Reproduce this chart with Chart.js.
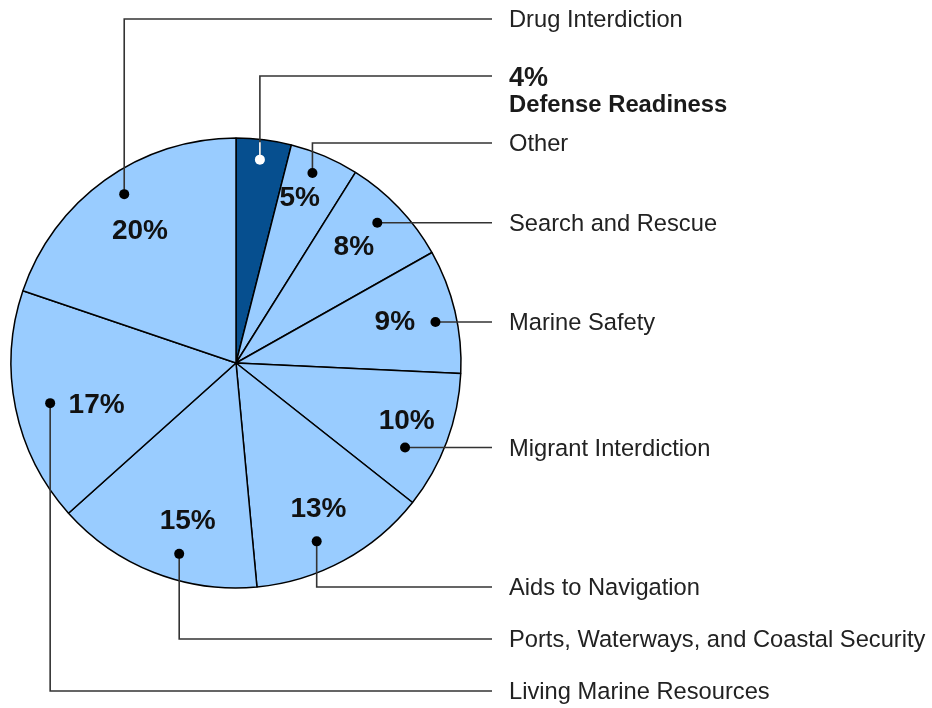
<!DOCTYPE html>
<html><head><meta charset="utf-8">
<script src="https://cdn.jsdelivr.net/npm/chart.js@4.4.0/dist/chart.umd.min.js"></script>
<style>html,body{margin:0;padding:0;background:#fff;} #wrap{width:932px;height:708px;}</style>
</head><body><div id="wrap"><canvas id="c" width="932" height="708"></canvas></div>
<script>
// ---- data ----
const categories = ["Defense Readiness","Other","Search and Rescue","Marine Safety","Migrant Interdiction","Aids to Navigation","Ports, Waterways, and Coastal Security","Living Marine Resources","Drug Interdiction"];
const shares = [4,5,8,9,10,13,15,17,20];
const pctLabels = shares.map(v => v + "%");
const highlighted = "Defense Readiness";

// ---- callout layout (style, not data) ----
const FONT = '"Liberation Sans", Arial, Helvetica, sans-serif';
const labelX = 509, leaderEndX = 492, textDY = 1.5;
const dotT = [0.47,0.43,0.46,0.555,0.67,0.59,0.41,0.49,0.53];
const dotR = [0.91,0.91,0.885,0.905,0.84,0.87,0.885,0.845,0.9];
const labelY = [76,143,null,null,null,587,639,691,19];
const pctT = [0.5,0.38,0.455,0.455,0.444,0.475,0.42,0.425,0.498];
const pctR = [0,0.79,0.74,0.73,0.80,0.74,0.73,0.645,0.73];

const lightBlue = '#99ccff', darkBlue = '#064f8f';

const callouts = {
  id: 'callouts',
  afterDatasetsDraw(chart) {
    const ctx = chart.ctx;
    const meta = chart.getDatasetMeta(0);
    ctx.save();
    meta.data.forEach((arc, i) => {
      const p = arc.getProps(['x','y','startAngle','endAngle','outerRadius'], true);
      const R = p.outerRadius;
      const a = p.startAngle + dotT[i]*(p.endAngle - p.startAngle);
      const dx = p.x + Math.cos(a)*R*dotR[i];
      const dy = p.y + Math.sin(a)*R*dotR[i];
      const isHi = categories[i] === highlighted;
      // leader
      ctx.strokeStyle = '#333';
      ctx.lineWidth = 1.6;
      ctx.lineCap = 'butt';
      ctx.beginPath();
      let ty;
      if (labelY[i] === null) {
        ty = dy;
        ctx.moveTo(dx, dy); ctx.lineTo(leaderEndX, dy);
      } else {
        ty = labelY[i];
        ctx.moveTo(dx, dy); ctx.lineTo(dx, ty); ctx.lineTo(leaderEndX, ty);
      }
      ctx.stroke();
      if (isHi) {
        const edgeY = p.y - Math.sqrt(R*R - (dx-p.x)*(dx-p.x));
        ctx.strokeStyle = '#ffffff';
        ctx.beginPath(); ctx.moveTo(dx, dy); ctx.lineTo(dx, edgeY + 3); ctx.stroke();
      }
      // dot
      ctx.fillStyle = isHi ? '#ffffff' : '#000000';
      ctx.beginPath(); ctx.arc(dx, dy, 5, 0, Math.PI*2); ctx.fill();
      // labels
      ctx.textAlign = 'left';
      ctx.textBaseline = 'middle';
      if (isHi) {
        ctx.fillStyle = '#1a1a1a';
        ctx.font = 'bold 27px ' + FONT;
        ctx.fillText(pctLabels[i], labelX, ty + 1 + textDY);
        ctx.font = 'bold 23.8px ' + FONT;
        ctx.fillText(categories[i], labelX, ty + 28 + textDY);
      } else {
        ctx.fillStyle = '#222222';
        ctx.font = '23.7px ' + FONT;
        ctx.fillText(categories[i], labelX, ty + textDY);
        const b = p.startAngle + pctT[i]*(p.endAngle - p.startAngle);
        ctx.fillStyle = '#111111';
        ctx.font = 'bold 28px ' + FONT;
        ctx.textAlign = 'center';
        ctx.fillText(pctLabels[i], p.x + Math.cos(b)*R*pctR[i], p.y + Math.sin(b)*R*pctR[i] + textDY);
      }
    });
    ctx.restore();
  }
};

new Chart(document.getElementById('c'), {
  type: 'pie',
  data: {
    labels: categories,
    datasets: [{
      data: shares,
      backgroundColor: categories.map(c => c === highlighted ? darkBlue : lightBlue),
      borderColor: '#000000',
      borderWidth: 1.5,
      hoverOffset: 0,
      radius: 225
    }]
  },
  options: {
    responsive: false,
    animation: false,
    events: [],
    layout: { padding: { left: 11, top: 138, right: 471, bottom: 120 } },
    plugins: { legend: { display: false }, tooltip: { enabled: false } }
  },
  plugins: [callouts]
});
</script>
</body></html>
